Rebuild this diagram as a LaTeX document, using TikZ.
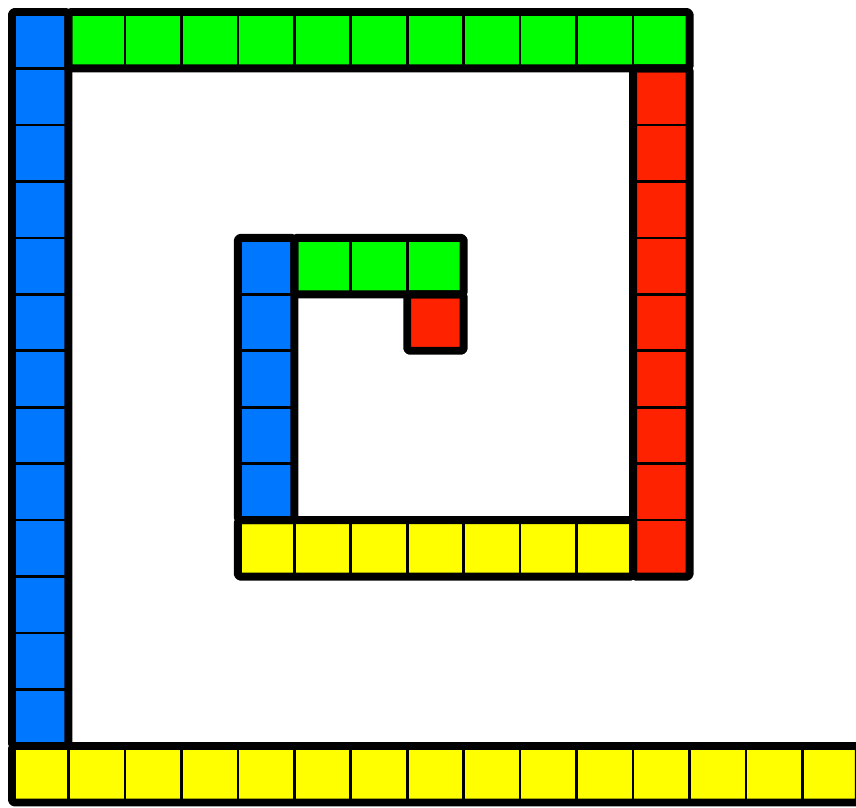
\documentclass[tikz,border=0pt]{standalone}
\usepackage{xcolor}
\usepackage{tikz}

\definecolor{spblue}{RGB}{0,119,255}
\definecolor{spgreen}{RGB}{0,255,0}
\definecolor{spred}{RGB}{255,34,0}
\definecolor{spyellow}{RGB}{255,255,0}

\begin{document}
\begin{tikzpicture}[
    x=1cm, y=-1cm,
    cell/.style={draw=black, line width=1.3pt},
    rim/.style={draw=black, line width=4pt, rounded corners=1pt, line join=round}
]
    \useasboundingbox (-0.2125,-0.2125) rectangle (14.948,14.098);

    % cells of each arm, outer to inner
    \foreach \r in {0,...,12} \filldraw [cell, fill=spblue] (0,\r) rectangle ++(1,1);
    \foreach \c in {1,...,11} \filldraw [cell, fill=spgreen] (\c,0) rectangle ++(1,1);
    \foreach \r in {1,...,9} \filldraw [cell, fill=spred] (11,\r) rectangle ++(1,1);
    \foreach \c in {4,...,10} \filldraw [cell, fill=spyellow] (\c,9) rectangle ++(1,1);
    \foreach \r in {4,...,8} \filldraw [cell, fill=spblue] (4,\r) rectangle ++(1,1);
    \foreach \c in {5,...,7} \filldraw [cell, fill=spgreen] (\c,4) rectangle ++(1,1);
    \filldraw [cell, fill=spred] (7,5) rectangle ++(1,1);
    \foreach \c in {0,...,14} \filldraw [cell, fill=spyellow] (\c,13) rectangle ++(1,1);

    % thick rim round each arm
    \draw [rim] (0,0) rectangle (1,13);
    \draw [rim] (1,0) rectangle (12,1);
    \draw [rim] (11,1) rectangle (12,10);
    \draw [rim] (4,9) rectangle (11,10);
    \draw [rim] (4,4) rectangle (5,9);
    \draw [rim] (5,4) rectangle (8,5);
    \draw [rim] (7,5) rectangle (8,6);
    \draw [rim] (0,13) rectangle (15,14);
\end{tikzpicture}
\end{document}
